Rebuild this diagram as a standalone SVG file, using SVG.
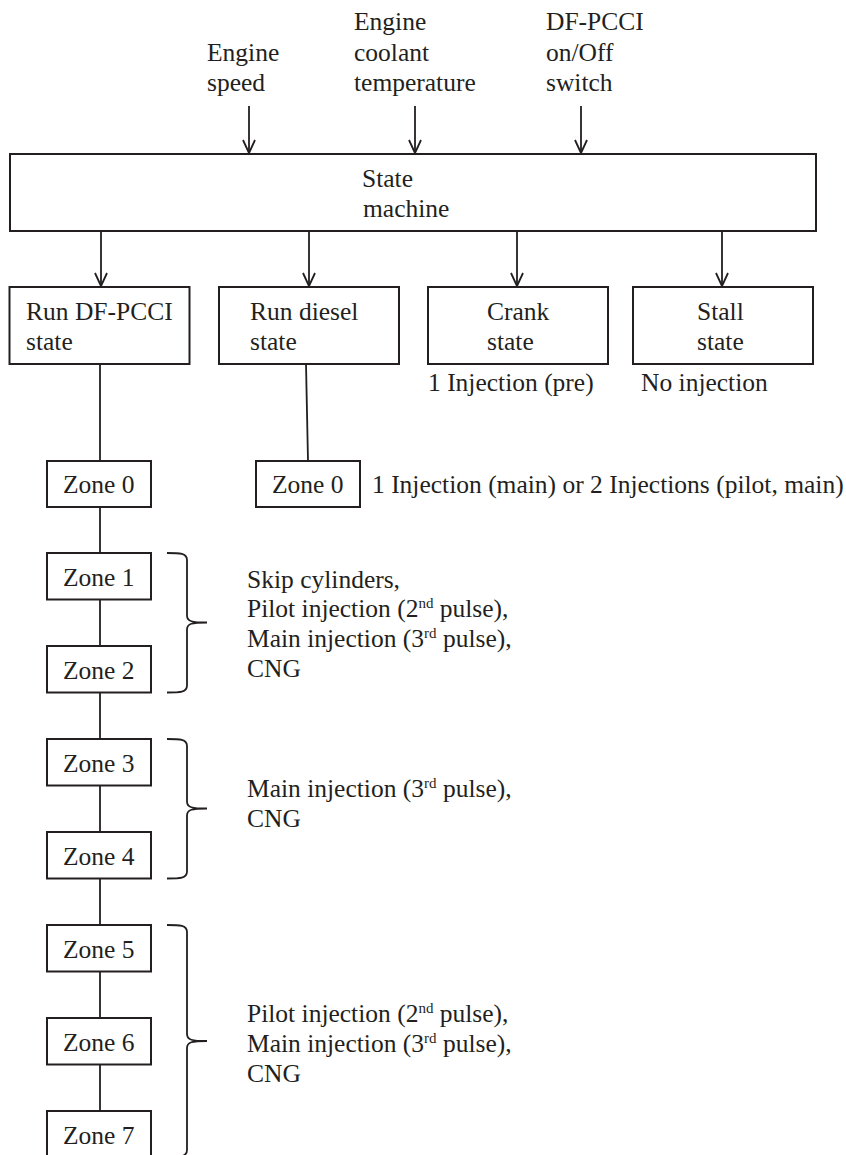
<svg xmlns="http://www.w3.org/2000/svg" width="846" height="1155" viewBox="0 0 846 1155" font-family="'Liberation Serif', Times, 'DejaVu Serif', serif">
<style>
text{font-family:'Liberation Serif',Tinos,Times,'Times New Roman','DejaVu Serif',serif;font-size:25.5px;fill:#231f20}
.sup{font-size:15px}
.box{fill:#fff;stroke:#231f20;stroke-width:2}
.ln{fill:none;stroke:#231f20;stroke-width:1.8}
</style>
<defs>
<marker id="ah" markerUnits="userSpaceOnUse" markerWidth="20" markerHeight="20" refX="14" refY="7" orient="auto">
<path d="M1,1 L14,7 L1,13" fill="none" stroke="#231f20" stroke-width="1.8"/>
</marker>
</defs>
<rect width="846" height="1155" fill="#fff"/>
<g id="inputs">
<text x="207" y="61">Engine</text>
<text x="207" y="91">speed</text>
<text x="354" y="30">Engine</text>
<text x="354" y="61">coolant</text>
<text x="354" y="91">temperature</text>
<text x="546" y="30">DF-PCCI</text>
<text x="546" y="61">on/Off</text>
<text x="546" y="91">switch</text>
</g>
<g id="connectors">
<line class="ln" x1="249" y1="106" x2="249" y2="153" marker-end="url(#ah)"/>
<line class="ln" x1="415" y1="106" x2="415" y2="153" marker-end="url(#ah)"/>
<line class="ln" x1="581" y1="106" x2="581" y2="153" marker-end="url(#ah)"/>
<line class="ln" x1="101" y1="231" x2="101" y2="286" marker-end="url(#ah)"/>
<line class="ln" x1="309" y1="231" x2="309" y2="286" marker-end="url(#ah)"/>
<line class="ln" x1="517" y1="231" x2="517" y2="286" marker-end="url(#ah)"/>
<line class="ln" x1="722" y1="231" x2="722" y2="286" marker-end="url(#ah)"/>
<line class="ln" x1="100" y1="364" x2="100" y2="1111"/>
<line class="ln" x1="306" y1="364" x2="308" y2="461"/>
</g>
<g id="state-machine">
<rect class="box" x="10" y="154" width="806" height="77"/>
<text x="362" y="187">State</text>
<text x="363" y="217">machine</text>
</g>
<g id="run-dfpcci">
<rect class="box" x="9.5" y="287" width="180" height="77"/>
<text x="26" y="320">Run DF-PCCI</text>
<text x="26" y="350">state</text>
</g>
<g id="run-diesel">
<rect class="box" x="219" y="287" width="180" height="77"/>
<text x="250" y="320">Run diesel</text>
<text x="250" y="350">state</text>
</g>
<g id="crank">
<rect class="box" x="428" y="287" width="180" height="77"/>
<text x="487" y="320">Crank</text>
<text x="487" y="350">state</text>
<text x="428" y="391">1 Injection (pre)</text>
</g>
<g id="stall">
<rect class="box" x="633" y="287" width="180" height="77"/>
<text x="697" y="320">Stall</text>
<text x="697" y="350">state</text>
<text x="641" y="391">No injection</text>
</g>
<g id="zone0-diesel">
<rect class="box" x="256" y="461" width="104" height="46"/>
<text x="272" y="493">Zone 0</text>
<text x="372" y="493">1 Injection (main) or 2 Injections (pilot, main)</text>
</g>
<g id="zone0">
<rect class="box" x="47" y="461" width="104" height="46"/>
<text x="63" y="493">Zone 0</text>
</g>
<g id="zone1">
<rect class="box" x="47" y="553" width="104" height="46.5"/>
<text x="63" y="586">Zone 1</text>
</g>
<g id="zone2">
<rect class="box" x="47" y="646" width="104" height="46.5"/>
<text x="63" y="679">Zone 2</text>
</g>
<g id="zone3">
<rect class="box" x="47" y="739" width="104" height="46.5"/>
<text x="63" y="772">Zone 3</text>
</g>
<g id="zone4">
<rect class="box" x="47" y="832" width="104" height="46.5"/>
<text x="63" y="865">Zone 4</text>
</g>
<g id="zone5">
<rect class="box" x="47" y="925" width="104" height="46.5"/>
<text x="63" y="958">Zone 5</text>
</g>
<g id="zone6">
<rect class="box" x="47" y="1018" width="104" height="46.5"/>
<text x="63" y="1051">Zone 6</text>
</g>
<g id="zone7">
<rect class="box" x="47" y="1111" width="104" height="46.5"/>
<text x="63" y="1144">Zone 7</text>
</g>
<g id="brace1">
<path class="ln" d="M167,553 C180,553 187,553 187,560 L187,615.5 C187,621.5 192,622.5 207,622.5 C192,622.5 187,623.5 187,629.5 L187,685.5 C187,692.5 180,692.5 167,692.5"/>
<text x="247" y="587.5">Skip cylinders,</text>
<text x="247" y="617">Pilot injection (2<tspan class="sup" dy="-9">nd</tspan><tspan dy="9"> pulse),</tspan></text>
<text x="247" y="647">Main injection (3<tspan class="sup" dy="-9">rd</tspan><tspan dy="9"> pulse),</tspan></text>
<text x="247" y="677">CNG</text>
</g>
<g id="brace2">
<path class="ln" d="M167,739 C180,739 187,739 187,746 L187,801.5 C187,807.5 192,808.5 207,808.5 C192,808.5 187,809.5 187,815.5 L187,871.5 C187,878.5 180,878.5 167,878.5"/>
<text x="247" y="797">Main injection (3<tspan class="sup" dy="-9">rd</tspan><tspan dy="9"> pulse),</tspan></text>
<text x="247" y="827">CNG</text>
</g>
<g id="brace3">
<path class="ln" d="M167,925 C180,925 187,925 187,932 L187,1034 C187,1040 192,1041 207,1041 C192,1041 187,1042 187,1048 L187,1150 C187,1157 180,1157 167,1157"/>
<text x="247" y="1022">Pilot injection (2<tspan class="sup" dy="-9">nd</tspan><tspan dy="9"> pulse),</tspan></text>
<text x="247" y="1052">Main injection (3<tspan class="sup" dy="-9">rd</tspan><tspan dy="9"> pulse),</tspan></text>
<text x="247" y="1082">CNG</text>
</g>
</svg>
